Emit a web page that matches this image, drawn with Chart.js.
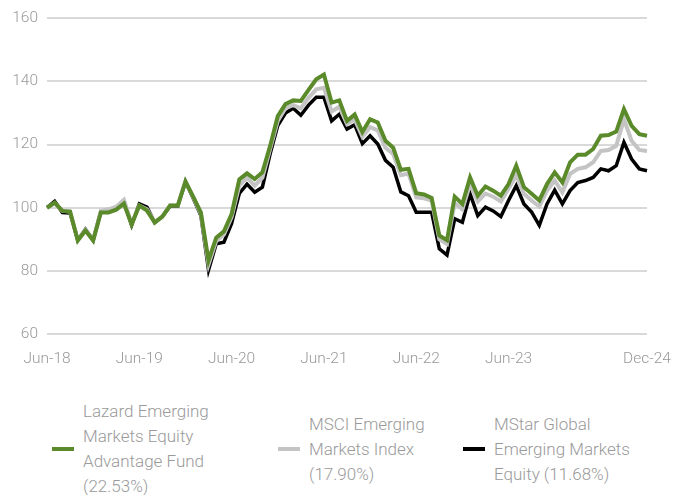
<!DOCTYPE html>
<html>
<head>
<meta charset="utf-8">
<script src="https://cdn.jsdelivr.net/npm/chart.js@4.4.0/dist/chart.umd.min.js"></script>
<style>
  body { margin: 0; background: #fff; }
  #wrap { position: relative; width: 673px; height: 495px; overflow: hidden; font-family: Roboto, "Liberation Sans", sans-serif; font-weight: 300; color: #9a9a9a; }
  #c { position: absolute; left: 0; top: 0; }
  .item { position: absolute; top: 400px; height: 98px; display: flex; align-items: center; }
  .sw { width: 22px; height: 4px; margin-right: 9px; }
  .txt { font-size: 17px; line-height: 25px; white-space: nowrap; }
</style>
</head>
<body>
<div id="wrap">
  <canvas id="c" width="673" height="385"></canvas>
  <div id="legend"></div>
</div>
<script>
const months = [
  "Jun-18","Jul-18","Aug-18","Sep-18","Oct-18","Nov-18","Dec-18",
  "Jan-19","Feb-19","Mar-19","Apr-19","May-19","Jun-19","Jul-19","Aug-19","Sep-19","Oct-19","Nov-19","Dec-19",
  "Jan-20","Feb-20","Mar-20","Apr-20","May-20","Jun-20","Jul-20","Aug-20","Sep-20","Oct-20","Nov-20","Dec-20",
  "Jan-21","Feb-21","Mar-21","Apr-21","May-21","Jun-21","Jul-21","Aug-21","Sep-21","Oct-21","Nov-21","Dec-21",
  "Jan-22","Feb-22","Mar-22","Apr-22","May-22","Jun-22","Jul-22","Aug-22","Sep-22","Oct-22","Nov-22","Dec-22",
  "Jan-23","Feb-23","Mar-23","Apr-23","May-23","Jun-23","Jul-23","Aug-23","Sep-23","Oct-23","Nov-23","Dec-23",
  "Jan-24","Feb-24","Mar-24","Apr-24","May-24","Jun-24","Jul-24","Aug-24","Sep-24","Oct-24","Nov-24","Dec-24"
];
const shownTicks = ["Jun-18", "Jun-19", "Jun-20", "Jun-21", "Jun-22", "Jun-23", "Dec-24"];

const lazard = [
  100, 101.6, 99, 98.8, 89.6, 92.8, 89.6, 98.5, 98.5, 99.4,
  101.3, 94.7, 100.7, 99.1, 95.3, 97.2, 100.7, 100.7, 108.3, 103.5,
  98.5, 83.3, 90.5, 92.5, 98, 109, 110.9, 109.1, 111.2, 119.5,
  129, 132.8, 134, 133.8, 137.3, 140.7, 142.2, 133.3, 134, 127.5,
  129.5, 124, 128, 127, 121.2, 119, 112, 112.3, 104.6, 104.2,
  103.1, 91.2, 89.7, 103.5, 101.2, 109.6, 103.8, 106.7, 105.4, 103.8,
  107.5, 113.3, 106.5, 104.4, 102.3, 107.5, 111.2, 108, 114.4, 116.8,
  116.8, 118.6, 122.8, 123, 124.1, 131.2, 125.9, 123.3, 122.8
];
const msci = [
  100, 101.5, 99, 98.8, 89.8, 93, 89.8, 99, 99.5, 100.3,
  102.5, 95, 100.7, 99.5, 95.5, 97.3, 100.7, 100.7, 108.3, 103.3,
  98, 82, 89.5, 91.5, 97, 107, 109.5, 107, 109.5, 118.5,
  127.5, 131.5, 132.5, 131.5, 134.8, 137.5, 138, 130.5, 132, 126.5,
  128, 122.5, 125.5, 124.5, 119, 117, 110.3, 110.8, 103.3, 103,
  102.3, 90, 88.5, 101.5, 99.5, 107.5, 102, 104.5, 103.5, 102,
  106, 110.2, 104.4, 102.3, 100.4, 105.4, 108.6, 104.9, 110.7, 112.3,
  112.8, 114.4, 118, 118.3, 119.6, 128, 121.2, 118.3, 118
];
const mstar = [
  100, 102, 98.5, 98.3, 89.8, 93.2, 89.8, 98.8, 99, 100,
  101.8, 94.5, 101.2, 100.2, 95.3, 97.2, 100.5, 100.5, 108.3, 103,
  97.5, 80.3, 88.6, 89.1, 95, 104.5, 107.5, 104.9, 106.5, 117,
  126, 130, 131.5, 129.3, 132.5, 135, 135, 127.5, 129.6, 124.9,
  126.3, 120.3, 122.8, 120.2, 115, 112.8, 105, 103.8, 98.6, 98.6,
  98.6, 87, 85, 96.5, 95.4, 104.4, 97.5, 100.2, 99, 97.2,
  102.3, 107, 101.2, 98.6, 94.4, 101.2, 105.6, 101.2, 105.4, 108,
  108.6, 109.6, 112.3, 111.7, 113.3, 120.7, 115.4, 112.3, 111.7
];

const seriesNames = [
  ["Lazard Emerging", "Markets Equity", "Advantage Fund", "(22.53%)"],
  ["MSCI Emerging", "Markets Index", "(17.90%)"],
  ["MStar Global", "Emerging Markets", "Equity (11.68%)"]
];
const colors = ["#5a8a2a", "#c4c4c4", "#000000"];
const legendX = [52, 278, 463];

const tickFont = { family: "Roboto, 'Liberation Sans', sans-serif", size: 15.5, weight: 300 };

new Chart(document.getElementById("c"), {
  type: "line",
  data: {
    labels: months,
    datasets: [
      { label: seriesNames[0].join(" "), data: lazard, borderColor: colors[0], borderWidth: 4 },
      { label: seriesNames[1].join(" "), data: msci, borderColor: colors[1], borderWidth: 4 },
      { label: seriesNames[2].join(" "), data: mstar, borderColor: colors[2], borderWidth: 3.5 }
    ]
  },
  options: {
    responsive: false,
    animation: false,
    devicePixelRatio: 1,
    elements: { point: { radius: 0 }, line: { tension: 0, borderJoinStyle: "miter", borderCapStyle: "butt" } },
    layout: { padding: { top: 17, right: 26, left: 0, bottom: 0 } },
    plugins: { legend: { display: false }, tooltip: { enabled: false } },
    scales: {
      x: {
        offset: false,
        grid: { display: false },
        border: { display: false },
        ticks: {
          autoSkip: false,
          maxRotation: 0,
          padding: 8,
          color: "#999",
          font: tickFont,
          callback: function (v) {
            const l = this.getLabelForValue(v);
            return shownTicks.includes(l) ? l : null;
          }
        },
        afterFit: (s) => { s.height = 51; s.paddingRight = 0; }
      },
      y: {
        min: 60,
        max: 160,
        grid: { color: "#d9d9d9", lineWidth: 2, drawTicks: false },
        border: { display: false },
        ticks: { stepSize: 20, padding: 9, color: "#999", font: tickFont },
        afterFit: (s) => { s.width = 47; }
      }
    }
  }
});

const legend = document.getElementById("legend");
seriesNames.forEach((lines, i) => {
  const item = document.createElement("div");
  item.className = "item";
  item.style.left = legendX[i] + "px";
  item.innerHTML = '<div class="sw" style="background:' + colors[i] + '"></div><div class="txt">' + lines.join("<br>") + "</div>";
  legend.appendChild(item);
});
</script>
</body>
</html>
